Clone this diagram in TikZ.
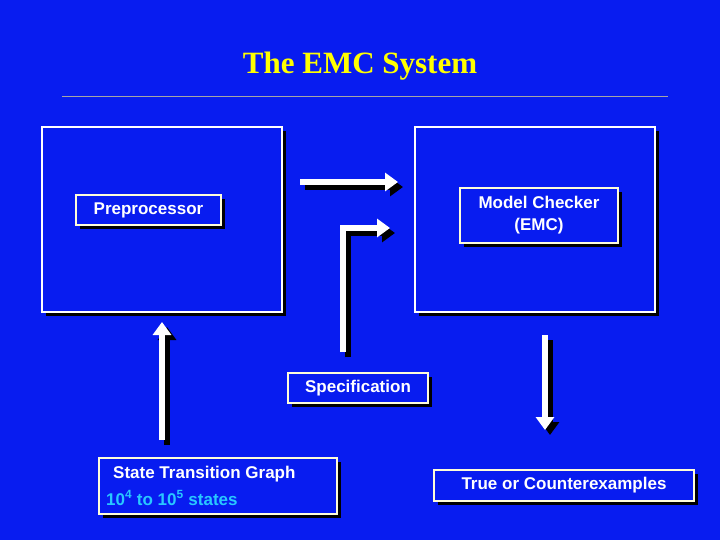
\documentclass[tikz,border=0pt]{standalone}
\usepackage{fontspec}
\setmainfont{Liberation Sans}
\newfontfamily\serifF{Liberation Serif}
\usetikzlibrary{arrows.meta}
\definecolor{bg}{RGB}{8,28,240}
\definecolor{ttl}{RGB}{255,255,0}
\definecolor{cyanT}{RGB}{40,200,255}
\tikzset{
  sbox/.style={draw=white,line width=1.2pt},
  lbl/.style={draw=white!85!yellow,line width=1.2pt,fill=bg,text=white,font=\bfseries\fontsize{17}{22}\selectfont,inner sep=0pt},
  arr/.style={line width=6pt,-{Triangle[length=13pt,width=18pt]},white},
  arrsh/.style={line width=6pt,-{Triangle[length=13pt,width=18pt]},black}
}
\begin{document}
\begin{tikzpicture}[x=1pt,y=-1pt]
\fill[bg] (0,0) rectangle (720,540);
\useasboundingbox (0,0) rectangle (720,540);
\node[text=ttl,font=\serifF\bfseries\fontsize{31}{35}\selectfont] (title) at (360,66) {The EMC System};
\draw[gray!70,line width=0.6pt] (62,96) -- (668,96);
% big boxes
\fill[black] (46,131) rectangle (286,316);
\draw[sbox,fill=bg] (42,127) rectangle (282,312);
\fill[black] (419,131) rectangle (659,316);
\draw[sbox,fill=bg] (415,127) rectangle (655,312);
% arrows
\coordinate (a1s) at (300,182); \coordinate (a1e) at (398,182);
\coordinate (a2s) at (343,352); \coordinate (a2m) at (343,228); \coordinate (a2e) at (390,228);
\coordinate (a3s) at (162,440); \coordinate (a3e) at (162,322);
\coordinate (a4s) at (545,335); \coordinate (a4e) at (545,430);
\draw[arrsh] ([shift={(5,5)}]a1s) -- ([shift={(5,5)}]a1e);
\draw[arrsh] ([shift={(5,5)}]a2s) -- ([shift={(5,5)}]a2m) -- ([shift={(5,5)}]a2e);
\draw[arrsh] ([shift={(5,5)}]a3s) -- ([shift={(5,5)}]a3e);
\draw[arrsh] ([shift={(5,5)}]a4s) -- ([shift={(5,5)}]a4e);
\draw[arr] (a1s) -- (a1e);
\draw[arr] (a2s) -- (a2m) -- (a2e);
\draw[arr] (a3s) -- (a3e);
\draw[arr] (a4s) -- (a4e);
% labels
\fill[black] (80,199) rectangle (225,229);
\node[lbl,minimum width=145pt,minimum height=30pt] (pre) at (148.5,210) {Preprocessor};
\fill[black] (464,192) rectangle (622,247);
\node[lbl,minimum width=158pt,minimum height=55pt,align=center] (mc) at (539,215.5) {Model Checker\\(EMC)};
\fill[black] (292,377) rectangle (432,407);
\node[lbl,minimum width=140pt,minimum height=30pt] (spec) at (358,388) {Specification};
\fill[black] (103,462) rectangle (341,518);
\node[lbl,minimum width=238pt,minimum height=56pt] (stg) at (218,486) {};
\node[text=white,font=\bfseries\fontsize{17}{22}\selectfont,anchor=west,inner sep=0pt] (stgt) at (113,474) {State Transition Graph};
\node[text=cyanT,font=\bfseries\fontsize{17}{22}\selectfont,anchor=west,inner sep=0pt] (stgs) at (106,498) {10\textsuperscript{4} to 10\textsuperscript{5} states};
\fill[black] (438,474) rectangle (698,505);
\node[lbl,minimum width=260pt,minimum height=31pt] (tc) at (564,485.5) {True or Counterexamples};
\end{tikzpicture}
\end{document}
